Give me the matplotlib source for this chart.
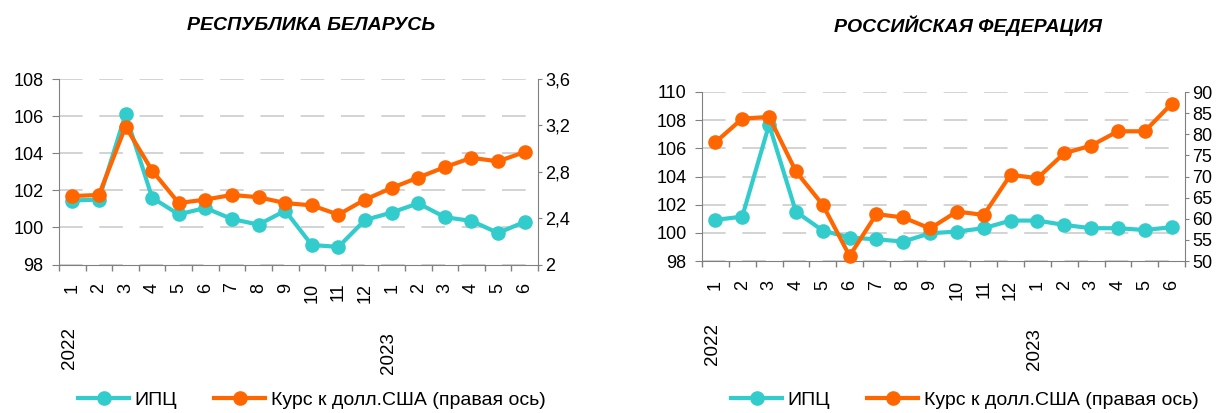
import matplotlib
matplotlib.use("Agg")
import matplotlib.pyplot as plt
from matplotlib.lines import Line2D

plt.rcParams['font.family'] = ['Liberation Sans', 'DejaVu Sans']
plt.rcParams['lines.scale_dashes'] = False

months = ['1', '2', '3', '4', '5', '6', '7', '8', '9', '10', '11', '12',
          '1', '2', '3', '4', '5', '6']
years = ['2022', '2023']
year_start_idx = [0, 12]

by_cpi = [101.45, 101.5, 106.1, 101.6, 100.7, 101.05, 100.45, 100.15, 100.9,
          99.05, 98.95, 100.4, 100.8, 101.3, 100.55, 100.35, 99.7, 100.3]
by_rate = [2.59, 2.60, 3.19, 2.81, 2.53, 2.56, 2.60, 2.58, 2.53,
           2.51, 2.43, 2.56, 2.66, 2.75, 2.84, 2.92, 2.89, 2.97]

ru_cpi = [100.92, 101.15, 107.68, 101.5, 100.16, 99.66, 99.54, 99.38, 99.97,
          100.09, 100.33, 100.87, 100.87, 100.56, 100.33, 100.33, 100.2, 100.4]
ru_rate = [78.1, 83.7, 84.1, 71.2, 63.3, 51.2, 61.1, 60.3, 57.7,
           61.7, 60.9, 70.4, 69.6, 75.5, 77.3, 80.7, 80.7, 87.2]

titles = ['РЕСПУБЛИКА БЕЛАРУСЬ', 'РОССИЙСКАЯ ФЕДЕРАЦИЯ']
series_names = ['ИПЦ', 'Курс к долл.США (правая ось)']

TEAL = '#33CCCC'
ORANGE = '#FF6600'
GRID = '#D0D0D0'
SPINE = '#808080'
FS_TICK = 13
FS_YEAR = 13.5
FS_TITLE = 14
FS_LEG = 14

W, H = 1221, 413
fig = plt.figure(figsize=(W / 100, H / 100), dpi=100)


def px_rect(l, t, r, b):
    return [l / W, 1 - b / H, (r - l) / W, (b - t) / H]


def panel(rect, cpi, rate, lylim, lyticks, ryticks, rfmt, title, title_xy,
          year_y, leg_xy, xpad):
    ax = fig.add_axes(px_rect(*rect))
    ax2 = ax.twinx()
    x = list(range(len(months)))
    ax.plot(x, cpi, color=TEAL, lw=3, marker='o', ms=9.5, zorder=3,
            clip_on=False)
    ax2.plot(x, rate, color=ORANGE, lw=3, marker='o', ms=9.5, zorder=3,
             clip_on=False)
    ax.set_xlim(-0.5, len(months) - 0.5)
    ax.set_ylim(*lylim)
    ax.set_yticks(lyticks)
    ax.set_yticklabels([str(v) for v in lyticks])
    ax2.set_ylim(ryticks[0], ryticks[-1])
    ax2.set_yticks(ryticks)
    ax2.set_yticklabels([rfmt(v) for v in ryticks])
    ax.set_xticks(x)
    ax.set_xticklabels(months, rotation=90, va='top')
    ax.set_xticks([i - 0.5 for i in range(len(months) + 1)], minor=True)
    ax.tick_params(axis='x', which='major', length=0, pad=xpad,
                   labelsize=FS_TICK)
    ax.tick_params(axis='x', which='minor', length=4.5, color=SPINE, width=1)
    ax.tick_params(axis='y', length=5, color=SPINE, labelsize=FS_TICK, pad=6)
    ax2.tick_params(axis='y', length=3, color=SPINE, labelsize=FS_TICK, pad=2)
    for a in (ax, ax2):
        a.spines['top'].set_visible(False)
        for s in ('left', 'right', 'bottom'):
            a.spines[s].set_color(SPINE)
    ax.spines['right'].set_visible(False)
    ax2.spines['left'].set_visible(False)
    ax2.spines['bottom'].set_visible(False)
    ax.grid(axis='y', color=GRID, lw=1.3, dashes=(17, 12))
    ax.set_axisbelow(True)
    fig.text(title_xy[0] / W, 1 - title_xy[1] / H, title, ha='center',
             va='center', fontsize=FS_TITLE, fontweight='bold',
             fontstyle='italic')
    for yr, idx, yy in zip(years, year_start_idx, year_y):
        ax.annotate(yr, xy=(idx - 0.12, (H - yy)),
                    xycoords=('data', 'figure pixels'),
                    rotation=90, ha='center', va='top', fontsize=FS_YEAR,
                    annotation_clip=False)
    handles = [Line2D([], [], color=TEAL, lw=3, marker='o', ms=9.5),
               Line2D([], [], color=ORANGE, lw=3, marker='o', ms=9.5)]
    fig.legend(handles, series_names, loc='center',
               bbox_to_anchor=(leg_xy[0] / W, 1 - leg_xy[1] / H),
               ncol=2, frameon=False, fontsize=FS_LEG, handlelength=2.6,
               handletextpad=0.3, columnspacing=1.9, borderpad=0,
               borderaxespad=0)


panel((59, 79, 538, 264.5), by_cpi, by_rate, (98, 108),
      [98, 100, 102, 104, 106, 108],
      [2.0, 2.4, 2.8, 3.2, 3.6], lambda v: ('%g' % v).replace('.', ','),
      titles[0], (311, 26), [327, 332], (312, 400), 13)
panel((702, 92, 1185, 261), ru_cpi, ru_rate, (98, 110),
      [98, 100, 102, 104, 106, 108, 110],
      [50, 55, 60, 65, 70, 75, 80, 85, 90], lambda v: '%d' % v,
      titles[1], (968, 26), [323, 328], (965, 400), 13.5)

fig.savefig('out.png', dpi=100)
